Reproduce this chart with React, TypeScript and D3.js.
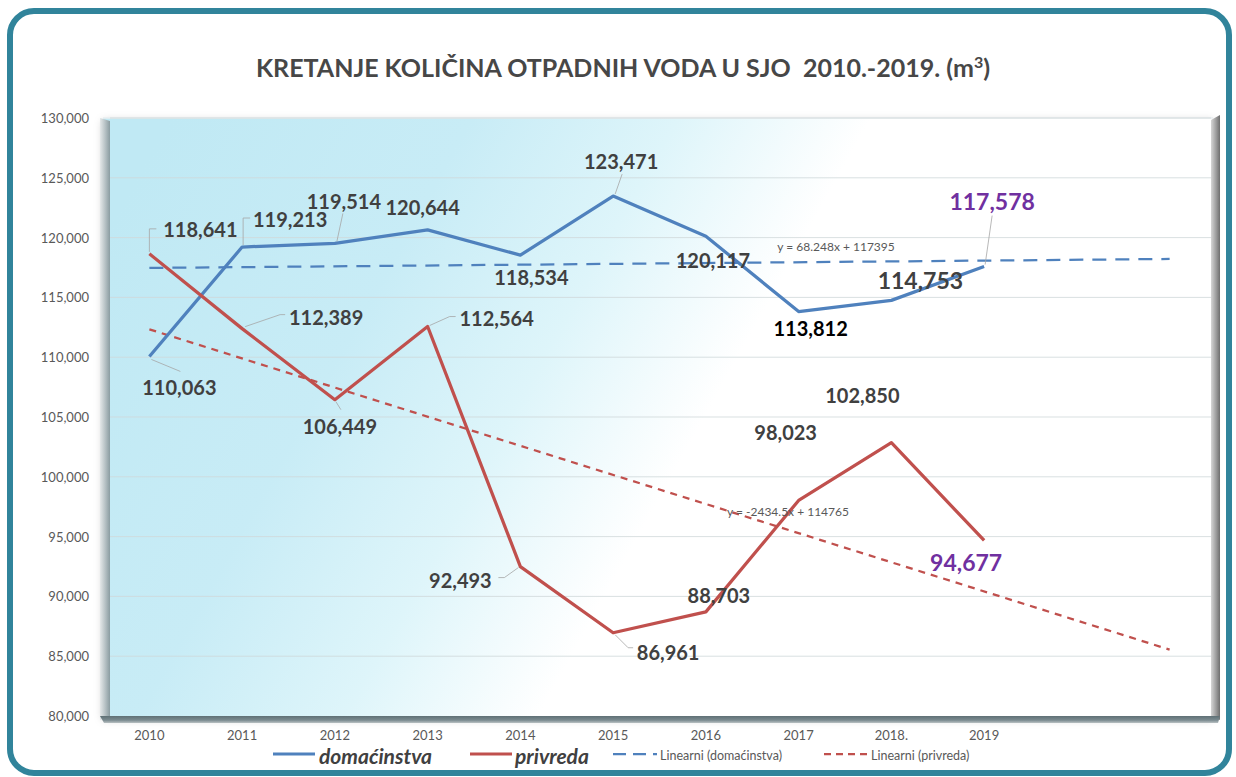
import React from "react";
import * as d3 from "d3";

const categories = ["2010", "2011", "2012", "2013", "2014", "2015", "2016", "2017", "2018.", "2019", "", ""];
const domacinstva = [110063, 119213, 119514, 120644, 118534, 123471, 120117, 113812, 114753, 117578];
const privreda = [118641, 112389, 106449, 112564, 92493, 86961, 88703, 98023, 102850, 94677];
const yTicks = [80000, 85000, 90000, 95000, 100000, 105000, 110000, 115000, 120000, 125000, 130000];
const trendLabelDom = "y = 68.248x + 117395";
const trendLabelPriv = "y = -2434.5x + 114765";

// label layout (offsets relative to the point), separate from data
type Lbl = { dx: number; dy: number; leader?: number[][]; color?: string; size?: number };
const domLabels: Lbl[] = [
  { dx: 30, dy: 31, leader: [[2, 3], [31, 15]] },
  { dx: 48, dy: -28, leader: [[1, -2], [1, -29], [8, -29]] },
  { dx: 9, dy: -42, leader: [[2, -2], [8, -30]] },
  { dx: -5, dy: -23 },
  { dx: 11, dy: 22 },
  { dx: 8, dy: -35, leader: [[2, -2], [9, -22]] },
  { dx: 7, dy: 24 },
  { dx: 12, dy: 16, color: "#000000" },
  { dx: 29, dy: -20, size: 23 },
  { dx: 8, dy: -66, leader: [[1, -2], [8, -51]], color: "#7030a0", size: 23 },
];
const privLabels: Lbl[] = [
  { dx: 51, dy: -25, leader: [[0, -2], [0, -25], [7, -25]] },
  { dx: 84, dy: -12, leader: [[3, -2], [38, -14], [43, -14]] },
  { dx: 5, dy: 26, leader: [[1, 2], [6, 10]] },
  { dx: 69, dy: -9, leader: [[2, -1], [22, -10], [28, -10]] },
  { dx: -60, dy: 13, leader: [[-2, 1], [-16, 11], [-22, 11]] },
  { dx: 55, dy: 19, leader: [[2, 2], [15, 15], [20, 15]] },
  { dx: 13, dy: -17 },
  { dx: -13, dy: -68 },
  { dx: -29, dy: -48 },
  { dx: -18, dy: 22, color: "#7030a0", size: 23 },
];

const FONT = "Lato, 'Open Sans', sans-serif";
const BLUE = "#4f81bd";
const RED = "#c0504d";

function regression(vals: number[]) {
  const xs = vals.map((_, i) => i + 1);
  const mx = d3.mean(xs)!;
  const my = d3.mean(vals)!;
  const num = d3.sum(xs.map((x, i) => (x - mx) * (vals[i] - my)));
  const den = d3.sum(xs.map((x) => (x - mx) ** 2));
  const b = num / den;
  const a = my - b * mx;
  return (x: number) => a + b * x;
}

export default function App() {
  const W = 1236, H = 777;
  const x = d3.scaleBand<number>().domain(d3.range(categories.length)).range([103, 1216]);
  const cx = (i: number) => (x(i) as number) + x.bandwidth() / 2;
  const y = d3.scaleLinear().domain([80000, 130000]).range([716, 118]);
  const line = d3.line<number>().x((_, i) => cx(i)).y((d) => y(d));
  const fmt = d3.format(",");

  const trendDom = regression(domacinstva);
  const trendPriv = regression(privreda);
  const last = categories.length - 1;
  const trendPath = (f: (x: number) => number) =>
    d3.line<number>().x((i) => cx(i)).y((i) => y(f(i + 1)))([0, last]) as string;

  const top = y(130000), bottom = y(80000);
  const left = 103, right = 1213;

  const renderLabels = (vals: number[], layout: Lbl[], key: string) =>
    vals.map((v, i) => {
      const px = cx(i), py = y(v);
      const L = layout[i];
      return (
        <g key={key + i}>
          {L.leader && (
            <polyline
              points={L.leader.map((p) => `${px + p[0]},${py + p[1]}`).join(" ")}
              fill="none"
              stroke="#a6a6a6"
              strokeWidth={0.8}
            />
          )}
          <text
            x={px + L.dx}
            y={py + L.dy}
            textAnchor="middle"
            dominantBaseline="central"
            fontFamily={FONT}
            fontWeight="bold"
            fontSize={L.size ?? 20}
            fill={L.color ?? "#404040"}
          >
            {fmt(v)}
          </text>
        </g>
      );
    });

  return (
    <svg width={W} height={H} style={{ position: "absolute", left: 0, top: 0, background: "#fff" }}>
      <defs>
        <linearGradient id="plotbg" x1="0" y1="0.2" x2="1" y2="0.5">
          <stop offset="0" stopColor="#c0e9f4" />
          <stop offset="0.25" stopColor="#c8ecf6" />
          <stop offset="0.42" stopColor="#def5fa" />
          <stop offset="0.58" stopColor="#ffffff" />
          <stop offset="1" stopColor="#ffffff" />
        </linearGradient>
        <linearGradient id="lwall" x1="0" y1="0" x2="1" y2="0">
          <stop offset="0" stopColor="#e4e8e9" />
          <stop offset="0.5" stopColor="#b8c3c6" />
          <stop offset="1" stopColor="#8a9ca1" />
        </linearGradient>
        <linearGradient id="rwall" x1="0" y1="0" x2="1" y2="0">
          <stop offset="0" stopColor="#d6d6d6" />
          <stop offset="0.6" stopColor="#9a9a9a" />
          <stop offset="1" stopColor="#6e6e6e" />
        </linearGradient>
        <linearGradient id="floor" x1="0" y1="0" x2="0" y2="1">
          <stop offset="0" stopColor="#5f7075" />
          <stop offset="0.6" stopColor="#7b8b90" />
          <stop offset="1" stopColor="#b9c1c3" />
        </linearGradient>
        <filter id="shadow" x="-5%" y="-5%" width="110%" height="115%">
          <feDropShadow dx="0" dy="3" stdDeviation="4" floodColor="#000" floodOpacity="0.25" />
        </filter>
      </defs>

      {/* outer frame */}
      <rect x={10} y={11} width={1219} height={762} rx={24} ry={24} fill="#ffffff" stroke="#31849b" strokeWidth={6} />

      {/* title */}
      <text x={623} y={77} textAnchor="middle" fontFamily={FONT} fontWeight="bold" fontSize={25} fill="#474747">
        KRETANJE KOLIČINA OTPADNIH VODA U SJO{"\u00a0\u00a0"}2010.-2019. (m
        <tspan baselineShift="super" fontSize={16}>3</tspan>)
      </text>

      {/* plot area 3D frame */}
      <g filter="url(#shadow)">
        <rect x={left} y={top} width={right - left} height={bottom - top} fill="url(#plotbg)" />
      </g>
      <polygon points={`${left - 3},${top} ${left + 7},${top + 3} ${left + 7},${bottom} ${left - 3},${bottom + 4}`} fill="url(#lwall)" />
      <polygon points={`${right - 2},${top + 2} ${right + 7},${top - 3} ${right + 7},${bottom + 4} ${right - 2},${bottom}`} fill="url(#rwall)" />
      <polygon points={`${left - 3},${bottom} ${right + 7},${bottom} ${right + 5},${bottom + 7} ${left + 1},${bottom + 7}`} fill="url(#floor)" />
      <line x1={left} x2={right} y1={top} y2={top} stroke="#e8eef0" strokeWidth={1.5} />

      {/* gridlines */}
      {yTicks.slice(1).map((t) => (
        <line key={t} x1={left + 7} x2={right - 2} y1={y(t)} y2={y(t)} stroke="#d0d8da" strokeOpacity={0.8} strokeWidth={1} />
      ))}

      {/* y tick labels */}
      {yTicks.map((t) => (
        <text key={t} x={89} y={y(t)} textAnchor="end" dominantBaseline="central" fontFamily={FONT} fontSize={13} fill="#595959">
          {fmt(t)}
        </text>
      ))}

      {/* x labels */}
      {categories.map((c, i) => (
        <text key={i} x={cx(i)} y={735} textAnchor="middle" dominantBaseline="central" fontFamily={FONT} fontSize={13} fill="#595959">
          {c}
        </text>
      ))}

      {/* trend lines */}
      <path d={trendPath(trendPriv)} fill="none" stroke={RED} strokeWidth={2.25} strokeDasharray="7,6" />
      <path d={trendPath(trendDom)} fill="none" stroke={BLUE} strokeWidth={2.25} strokeDasharray="14,9" />

      {/* series lines */}
      <path d={line(domacinstva) as string} fill="none" stroke={BLUE} strokeWidth={3.25} strokeLinejoin="round" />
      <path d={line(privreda) as string} fill="none" stroke={RED} strokeWidth={3.25} strokeLinejoin="round" />

      {/* trend equations */}
      <text x={836} y={246} textAnchor="middle" dominantBaseline="central" fontFamily={FONT} fontSize={12} fill="#595959">
        {trendLabelDom}
      </text>
      <text x={788} y={511} textAnchor="middle" dominantBaseline="central" fontFamily={FONT} fontSize={12} fill="#595959">
        {trendLabelPriv}
      </text>

      {/* data labels */}
      {renderLabels(domacinstva, domLabels, "d")}
      {renderLabels(privreda, privLabels, "p")}

      {/* legend */}
      <g fontFamily={FONT}>
        <line x1={273} x2={315} y1={754} y2={754} stroke={BLUE} strokeWidth={3} />
        <text x={319} y={755} dominantBaseline="central" fontWeight="bold" fontStyle="italic" fontSize={21} fill="#404040">domaćinstva</text>
        <line x1={470} x2={512} y1={754} y2={754} stroke={RED} strokeWidth={3} />
        <text x={515} y={755} dominantBaseline="central" fontWeight="bold" fontStyle="italic" fontSize={21} fill="#404040">privreda</text>
        <line x1={613} x2={657} y1={754} y2={754} stroke={BLUE} strokeWidth={2.25} strokeDasharray="13,7" />
        <text x={660} y={755} dominantBaseline="central" fontSize={12.5} fill="#595959">Linearni (domaćinstva)</text>
        <line x1={824} x2={868} y1={754} y2={754} stroke={RED} strokeWidth={2.25} strokeDasharray="7,5" />
        <text x={871} y={755} dominantBaseline="central" fontSize={12.5} fill="#595959">Linearni (privreda)</text>
      </g>
    </svg>
  );
}
